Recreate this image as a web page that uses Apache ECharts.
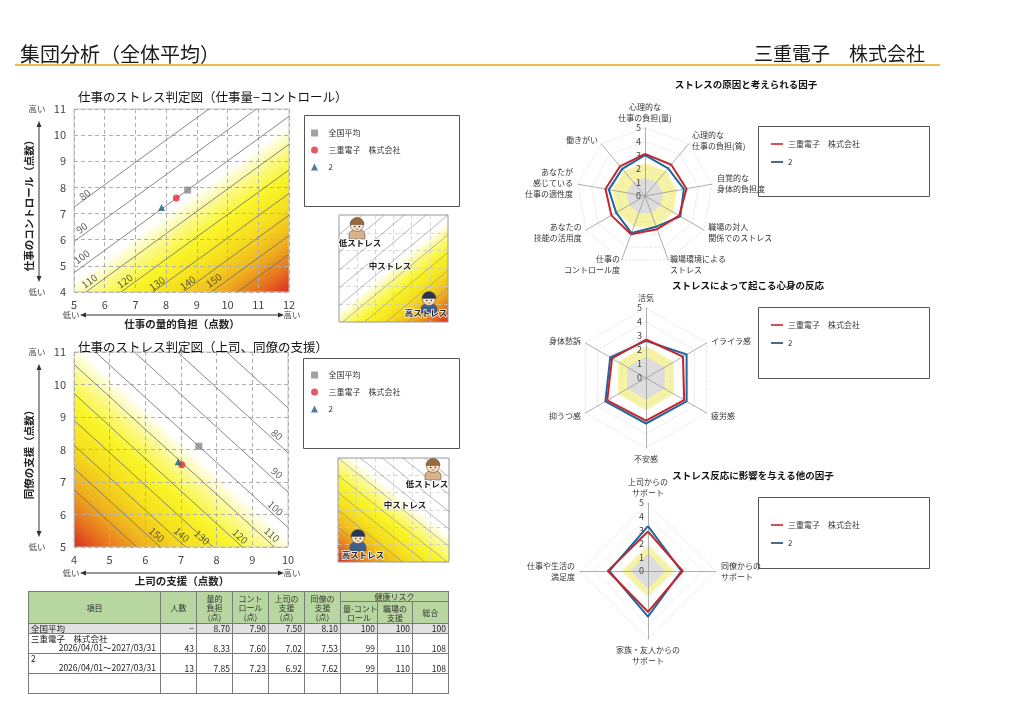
<!DOCTYPE html>
<html>
<head>
<meta charset="utf-8">
<script src="https://cdn.jsdelivr.net/npm/echarts@6/dist/echarts.min.js"></script>
<style>
html, body { margin:0; padding:0; background:#fff; }
#page { position:relative; width:1024px; height:724px; overflow:hidden; font-family:"Noto Sans CJK JP", sans-serif; }
#chart { position:absolute; left:0; top:0; width:1024px; height:724px; }
#tbl { position:absolute; left:28px; top:591px; width:420px; border-collapse:collapse; table-layout:fixed;
       font-family:"Noto Sans CJK JP", sans-serif; font-size:8px; color:#222; border:1.5px solid #333; z-index:2; }
#tbl td, #tbl th { border:1px solid #7a7a7a; padding:0 2px; overflow:hidden; white-space:nowrap; line-height:9px; }
#tbl th { background:#b8d7a0; font-weight:normal; text-align:center; vertical-align:middle; color:#333; }
#tbl td { text-align:right; vertical-align:bottom; font-size:8.5px; }
#tbl td.name { text-align:left; vertical-align:top; }
#tbl tr.avg td { background:#e2e2e2; vertical-align:middle; }
</style>
</head>
<body>
<div id="page">
  <div id="chart"></div>
  <table id="tbl"></table>
</div>
<script>
// ---- table / scatter values ----
var groups = ['全国平均', '三重電子　株式会社', '2'];
var periods = ['', '2026/04/01～2027/03/31', '2026/04/01～2027/03/31'];
var headcount = ['−', '43', '13'];
var jobDemand = [8.70, 8.33, 7.85];
var jobControl = [7.90, 7.60, 7.23];
var bossSupport = [7.50, 7.02, 6.92];
var peerSupport = [8.10, 7.53, 7.62];
var riskDemandControl = [100, 99, 99];
var riskSupport = [100, 110, 110];
var riskTotal = [100, 108, 108];

// ---- contour lines ----
var levels1 = [80, 90, 100, 110, 120, 130, 140, 150, 160];
var lines1 = [
  [[5, 7.25], [9.39, 11]], [[5, 5.93], [10.94, 11]], [[5, 4.74], [12, 10.72]],
  [[5.39, 4], [12, 9.65]], [[6.53, 4], [12, 8.67]], [[7.58, 4], [12, 7.77]],
  [[8.56, 4], [12, 6.94]], [[9.47, 4], [12, 6.16]], [[10.32, 4], [12, 5.44]]
];
var labelPos1 = [[5.35, 7.72], [5.25, 6.45], [5.25, 5.35], [5.5, 4.42], [6.65, 4.42], [7.7, 4.32], [8.7, 4.35], [9.55, 4.45]];

var levels2 = [70, 80, 90, 100, 110, 120, 130, 140, 150, 160];
var lines2 = [
  [[8.28, 11], [10, 9.28]], [[6.9, 11], [10, 7.9]], [[5.69, 11], [10, 6.69]], [[4.6, 11], [10, 5.6]],
  [[4, 10.62], [9.62, 5]], [[4, 9.72], [8.72, 5]], [[4, 8.9], [7.9, 5]], [[4, 8.13], [7.13, 5]],
  [[4, 7.42], [6.42, 5]], [[4, 6.76], [5.76, 5]]
];
var labelLevels2 = [80, 90, 100, 110, 120, 130, 140, 150];
var labelPos2 = [[9.69, 8.46], [9.69, 7.28], [9.65, 6.2], [9.55, 5.38], [8.66, 5.33], [7.59, 5.3], [7.02, 5.38], [6.32, 5.38]];

// ---- small explanation diagrams ----
var miniLinesUp = [
  [[0, 4.9], [1.3, 6]], [[0, 3.9], [2.5, 6]], [[0, 2.9], [3.6, 6]], [[0, 1.9], [4.8, 6]], [[0, 0.9], [6, 6]],
  [[0.2, 0], [6, 4.9]], [[1.4, 0], [6, 3.9]], [[2.6, 0], [6, 2.9]], [[3.8, 0], [6, 1.9]], [[4.9, 0], [6, 0.9]]
];
var miniLinesDown = [
  [[0, 1], [1.2, 0]], [[0, 2], [2.4, 0]], [[0, 3], [3.5, 0]], [[0, 4], [4.7, 0]], [[0, 5], [5.9, 0]],
  [[0, 6], [6, 0.9]], [[1.2, 6], [6, 1.9]], [[2.4, 6], [6, 2.9]], [[3.5, 6], [6, 3.9]], [[4.7, 6], [6, 4.9]]
];

// ---- radar values ----
var causeAxes = ['心理的な\n仕事の負担(量)', '心理的な\n仕事の負担(質)', '自覚的な\n身体的負担度', '職場の対人\n関係でのストレス',
  '職場環境による\nストレス', '仕事の\nコントロール度', 'あなたの\n技能の活用度', 'あなたが\n感じている\n仕事の適性度', '働きがい'];
var causeCompany = [3.1, 3.0, 3.1, 2.9, 2.6, 3.0, 2.85, 2.95, 2.85];
var causeGroup2 = [3.0, 2.65, 2.9, 3.0, 2.4, 2.9, 2.45, 2.7, 2.6];
var causeCaution = [2.4, 2.4, 2.4, 2.4, 2.4, 2.4, 2.4, 2.4, 2.4];
var causeHigh = [1.35, 1.35, 1.35, 1.35, 1.35, 1.35, 1.35, 1.35, 1.35];

var reactAxes = ['活気', 'イライラ感', '疲労感', '不安感', '抑うつ感', '身体愁訴'];
var reactCompany = [2.75, 3.05, 3.15, 3.05, 3.2, 2.8];
var reactGroup2 = [2.65, 3.35, 3.35, 3.25, 3.35, 2.95];
var reactCaution = [2.3, 2.3, 2.3, 2.3, 2.3, 2.3];
var reactHigh = [1.55, 1.55, 1.55, 1.55, 1.55, 1.55];

var supportAxes = ['上司からの\nサポート', '同僚からの\nサポート', '家族・友人からの\nサポート', '仕事や生活の\n満足度'];
var supportCompany = [2.9, 2.55, 3.0, 2.95];
var supportGroup2 = [3.3, 2.45, 3.35, 2.85];
var supportCaution = [1.9, 1.9, 1.9, 1.9];
var supportHigh = [1.3, 1.3, 1.3, 1.3];

var tableHeads = ['項目', '人数', '量的<br>負担<br>(点)', 'コント<br>ロール<br>(点)', '上司の<br>支援<br>(点)', '同僚の<br>支援<br>(点)'];
var riskHeads = ['量-コント<br>ロール', '職場の<br>支援', '総合'];

// ---------------------------------------------------------------
var FONT = '"Noto Sans CJK JP", "Noto Sans", sans-serif';
var C_AVG = '#8a8a8a', C_RED = '#e0303a', C_BLUE = '#1f5c8a';
var R_RED = '#c4262e', R_BLUE = '#2067a0';

// table
(function () {
  var cols = [132, 36, 36, 36, 36, 36, 37, 35, 36];
  var h = '<colgroup>' + cols.map(function (w) { return '<col style="width:' + w + 'px">'; }).join('') + '</colgroup>';
  h += '<tr style="height:10px">' + tableHeads.map(function (t) { return '<th rowspan="2">' + t + '</th>'; }).join('') +
       '<th colspan="3">健康リスク</th></tr>';
  h += '<tr style="height:22px">' + riskHeads.map(function (t) { return '<th>' + t + '</th>'; }).join('') + '</tr>';
  for (var i = 0; i < groups.length; i++) {
    var name = '<div>' + groups[i] + '</div>' + (periods[i] ? '<div style="text-align:right;padding-right:2px">' + periods[i] + '</div>' : '');
    h += '<tr' + (i === 0 ? ' class="avg" style="height:9px"' : ' style="height:20px"') + '>' +
      '<td class="name">' + name + '</td><td>' + headcount[i] + '</td>' +
      '<td>' + jobDemand[i].toFixed(2) + '</td><td>' + jobControl[i].toFixed(2) + '</td>' +
      '<td>' + bossSupport[i].toFixed(2) + '</td><td>' + peerSupport[i].toFixed(2) + '</td>' +
      '<td>' + riskDemandControl[i] + '</td><td>' + riskSupport[i] + '</td><td>' + riskTotal[i] + '</td></tr>';
  }
  h += '<tr style="height:20px">' + cols.map(function () { return '<td></td>'; }).join('') + '</tr>';
  document.getElementById('tbl').innerHTML = h;
})();

var chart = echarts.init(document.getElementById('chart'));

var riskStops = [
  { offset: 0, color: '#ffffff' }, { offset: 0.05, color: '#ffffff' }, { offset: 0.19, color: '#fbf98a' },
  { offset: 0.33, color: '#f9f52a' }, { offset: 0.52, color: '#f5de1e' }, { offset: 0.7, color: '#efb11e' },
  { offset: 0.86, color: '#e6701f' }, { offset: 1, color: '#dc2c22' }
];

function bgSeries(idx, lineA, lineB, corner) {
  return {
    type: 'custom', xAxisIndex: idx, yAxisIndex: idx, silent: true, z: -5,
    data: [[lineA[0], lineA[1]]],
    renderItem: function (params, api) {
      var cs = params.coordSys;
      var a = api.coord(lineA), b = api.coord(lineB), c = api.coord(corner);
      var dx = b[0] - a[0], dy = b[1] - a[1];
      var t = ((c[0] - a[0]) * dx + (c[1] - a[1]) * dy) / (dx * dx + dy * dy);
      var f = [a[0] + t * dx, a[1] + t * dy];
      return {
        type: 'rect', shape: { x: cs.x, y: cs.y, width: cs.width, height: cs.height },
        style: { fill: new echarts.graphic.LinearGradient(f[0], f[1], c[0], c[1], riskStops, true) }
      };
    }
  };
}

function xAx(gi, min, max, mini) {
  return {
    type: 'value', gridIndex: gi, min: min, max: max, interval: 1, z: 1,
    axisLine: { show: false }, axisTick: { show: false },
    axisLabel: { show: !mini, fontSize: 11, color: '#444', margin: 7, fontFamily: FONT },
    splitLine: { lineStyle: { color: mini ? '#c8c8c8' : '#b0b0b0', type: [4, 3], width: mini ? 0.7 : 1 } }
  };
}
function yAx(gi, min, max, mini) {
  var a = xAx(gi, min, max, mini);
  a.axisLabel.margin = 8;
  return a;
}

var series = [];
series.push(bgSeries(0, lines1[2][0], lines1[2][1], [12, 4]));
series.push(bgSeries(1, lines2[3][0], lines2[3][1], [4, 5]));
series.push(bgSeries(2, miniLinesUp[4][0], miniLinesUp[4][1], [6, 0]));
series.push(bgSeries(3, miniLinesDown[6][0], miniLinesDown[6][1], [0, 0]));

function contour(idx, lines, color, width) {
  lines.forEach(function (l) {
    series.push({ type: 'line', xAxisIndex: idx, yAxisIndex: idx, data: l, symbol: 'none', silent: true, z: 3,
      lineStyle: { color: color, width: width } });
  });
}
contour(0, lines1, '#6a6a6a', 0.8);
contour(1, lines2, '#6a6a6a', 0.8);
contour(2, miniLinesUp, '#8a8a8a', 0.6);
contour(3, miniLinesDown, '#8a8a8a', 0.6);

function levelLabels(idx, pos, lv, rot) {
  series.push({
    type: 'scatter', xAxisIndex: idx, yAxisIndex: idx, symbolSize: 1, silent: true, z: 4,
    itemStyle: { color: 'transparent' },
    data: pos.map(function (p, i) { return [p[0], p[1], lv[i]]; }),
    label: { show: true, position: 'inside', rotate: rot, fontSize: 10, color: '#333', fontFamily: FONT,
      formatter: function (p) { return p.value[2]; } }
  });
}
levelLabels(0, labelPos1, levels1, 36);
levelLabels(1, labelPos2, labelLevels2, -42);

var marks = [
  { symbol: 'rect', color: C_AVG },
  { symbol: 'circle', color: C_RED },
  { symbol: 'triangle', color: C_BLUE }
];
groups.forEach(function (g, i) {
  series.push({ type: 'scatter', name: g, xAxisIndex: 0, yAxisIndex: 0, symbol: marks[i].symbol, symbolSize: 7, z: 10,
    itemStyle: { color: marks[i].color }, data: [[jobDemand[i], jobControl[i]]] });
  series.push({ type: 'scatter', name: g, xAxisIndex: 1, yAxisIndex: 1, symbol: marks[i].symbol, symbolSize: 7, z: 10,
    itemStyle: { color: marks[i].color }, data: [[bossSupport[i], peerSupport[i]]] });
});

// radar
function cw(arr) { return [arr[0]].concat(arr.slice(1).reverse()); }
function radarCfg(axes, center, radius) {
  return {
    z: 4,
    center: center, radius: radius, startAngle: 90, splitNumber: 5, shape: 'polygon',
    indicator: cw(axes).map(function (n, i) {
      var ind = { name: n, min: 0, max: 5 };
      if (i === 0) ind.axisLabel = { show: true, fontSize: 9, color: '#444', showMinLabel: true, margin: 4 };
      return ind;
    }),
    axisName: { color: '#333', fontSize: 8, lineHeight: 11, fontFamily: FONT },
    nameGap: 5,
    axisLine: { lineStyle: { color: '#9a9a9a', width: 0.8 } },
    splitLine: { lineStyle: { color: '#dcdcdc', type: 'dashed', width: 0.7 } },
    splitArea: { show: false },
    axisTick: { show: false },
    axisLabel: { show: false }
  };
}
var radars = [
  radarCfg(causeAxes, [645, 196], 68),
  radarCfg(reactAxes, [646, 378], 70),
  radarCfg(supportAxes, [648, 571], 68)
];
var radarData = [
  [causeCaution, causeHigh, causeGroup2, causeCompany],
  [reactCaution, reactHigh, reactGroup2, reactCompany],
  [supportCaution, supportHigh, supportGroup2, supportCompany]
];
radarData.forEach(function (d, ri) {
  series.push({ type: 'radar', radarIndex: ri, silent: true, symbol: 'none', z: 1,
    data: [
      { value: cw(d[0]), areaStyle: { color: '#f6f3a2', opacity: 1 }, lineStyle: { opacity: 0 } },
      { value: cw(d[1]), areaStyle: { color: '#dddddd', opacity: 1 }, lineStyle: { opacity: 0 } }
    ] });
  series.push({ type: 'radar', radarIndex: ri, symbol: 'none', z: 6,
    data: [
      { name: groups[2], value: cw(d[2]), itemStyle: { color: R_BLUE }, lineStyle: { color: R_BLUE, width: 2 } },
      { name: groups[1], value: cw(d[3]), itemStyle: { color: R_RED }, lineStyle: { color: R_RED, width: 2 } }
    ] });
});

// legends
var SQ = 'path://M0,0H1V1H0Z', TRI = 'path://M0.5,0L1,1H0Z', LN = 'path://M0,0H12V2H0Z';
function scatterLegend(top) {
  return {
    left: 306, top: top, orient: 'vertical', itemGap: 9, itemWidth: 18, itemHeight: 7, selectedMode: false,
    textStyle: { fontSize: 8, color: '#333', fontFamily: FONT },
    data: [
      { name: groups[0], icon: SQ, itemStyle: { color: C_AVG } },
      { name: groups[1], icon: 'circle', itemStyle: { color: C_RED } },
      { name: groups[2], icon: TRI, itemStyle: { color: C_BLUE } }
    ]
  };
}
function radarLegend(top) {
  return {
    left: 766, top: top, orient: 'vertical', itemGap: 10, itemWidth: 12, itemHeight: 2, selectedMode: false,
    textStyle: { fontSize: 8, color: '#333', fontFamily: FONT },
    data: [
      { name: groups[1], icon: LN, itemStyle: { color: R_RED } },
      { name: groups[2], icon: LN, itemStyle: { color: '#1d4766' } }
    ]
  };
}

// graphic helpers
function txt(x, y, s, size, o) {
  o = o || {};
  return { type: 'text', x: x, y: y, rotation: o.rot || 0, z: 50,
    style: { text: s, fontSize: size, fontFamily: FONT, fontWeight: o.bold ? 'bold' : 'normal', fill: o.color || '#222',
      align: o.align || 'center', verticalAlign: 'middle', stroke: o.stroke || null, lineWidth: o.lw || 0 } };
}
function box(x, y, w, h) {
  return { type: 'rect', z: 50, shape: { x: x + 0.5, y: y + 0.5, width: w, height: h }, style: { fill: 'none', stroke: '#555', lineWidth: 1 } };
}
function arrowH(x1, x2, y) {
  return [
    { type: 'line', z: 50, shape: { x1: x1 + 4, y1: y, x2: x2 - 4, y2: y }, style: { stroke: '#333', lineWidth: 1 } },
    { type: 'polygon', z: 50, shape: { points: [[x1, y], [x1 + 6, y - 2.5], [x1 + 6, y + 2.5]] }, style: { fill: '#333' } },
    { type: 'polygon', z: 50, shape: { points: [[x2, y], [x2 - 6, y - 2.5], [x2 - 6, y + 2.5]] }, style: { fill: '#333' } }
  ];
}
function arrowV(x, y1, y2) {
  return [
    { type: 'line', z: 50, shape: { x1: x, y1: y1 + 4, x2: x, y2: y2 - 4 }, style: { stroke: '#333', lineWidth: 1 } },
    { type: 'polygon', z: 50, shape: { points: [[x, y1], [x - 2.5, y1 + 6], [x + 2.5, y1 + 6]] }, style: { fill: '#333' } },
    { type: 'polygon', z: 50, shape: { points: [[x, y2], [x - 2.5, y2 - 6], [x + 2.5, y2 - 6]] }, style: { fill: '#333' } }
  ];
}
function face(cx, cy, hair, cloth) {
  return [
    { type: 'rect', z: 50, shape: { x: cx - 8, y: cy + 5, width: 16, height: 9, r: [5, 5, 0, 0] }, style: { fill: cloth, stroke: '#555', lineWidth: 0.6 } },
    { type: 'circle', z: 51, shape: { cx: cx, cy: cy, r: 6.5 }, style: { fill: '#fbe2c4', stroke: '#555', lineWidth: 0.6 } },
    { type: 'sector', z: 52, shape: { cx: cx, cy: cy - 0.5, r: 7, r0: 0, startAngle: Math.PI, endAngle: 2 * Math.PI }, style: { fill: hair, stroke: '#555', lineWidth: 0.6 } },
    { type: 'circle', z: 53, shape: { cx: cx - 2.3, cy: cy + 1.5, r: 0.8 }, style: { fill: '#333' } },
    { type: 'circle', z: 53, shape: { cx: cx + 2.3, cy: cy + 1.5, r: 0.8 }, style: { fill: '#333' } },
    { type: 'line', z: 53, shape: { x1: cx - 1.5, y1: cy + 4, x2: cx + 1.5, y2: cy + 4 }, style: { stroke: '#a04030', lineWidth: 0.7 } }
  ];
}

var g = [];
// page header
g.push(txt(20, 54, '集団分析（全体平均）', 20, { align: 'left', color: '#1a1a1a' }));
g.push(txt(925, 54, '三重電子　株式会社', 19, { align: 'right', color: '#1a1a1a' }));
g.push({ type: 'line', z: 50, shape: { x1: 15, y1: 65, x2: 940, y2: 65 }, style: { stroke: '#e7bd4c', lineWidth: 2.2 } });

// chart titles
g.push(txt(78, 97, '仕事のストレス判定図（仕事量−コントロール）', 12.5, { align: 'left', color: '#111' }));
g.push(txt(78, 347, '仕事のストレス判定図（上司、同僚の支援）', 12.5, { align: 'left', color: '#111' }));

// axis decorations chart 1
g.push(txt(37, 109, '高い', 8.5, { color: '#444' }), txt(37, 292, '低い', 8.5, { color: '#444' }));
g = g.concat(arrowV(39, 121, 282));
g.push(txt(29, 203, '仕事のコントロール（点数）', 10.5, { rot: Math.PI / 2, bold: true, color: '#222' }));
g.push(txt(71, 315, '低い', 8.5, { color: '#444' }), txt(292, 315, '高い', 8.5, { color: '#444' }));
g = g.concat(arrowH(80, 284, 315));
g.push(txt(182, 324, '仕事の量的負担（点数）', 10.5, { bold: true, color: '#222' }));

// axis decorations chart 2
g.push(txt(37, 352, '高い', 8.5, { color: '#444' }), txt(37, 547, '低い', 8.5, { color: '#444' }));
g = g.concat(arrowV(39, 364, 537));
g.push(txt(29, 452, '同僚の支援（点数）', 10.5, { rot: Math.PI / 2, bold: true, color: '#222' }));
g.push(txt(71, 573, '低い', 8.5, { color: '#444' }), txt(292, 573, '高い', 8.5, { color: '#444' }));
g = g.concat(arrowH(80, 284, 573));
g.push(txt(182, 581, '上司の支援（点数）', 10.5, { bold: true, color: '#222' }));

// legend boxes
g.push(box(304, 115, 155, 91), box(303, 358, 156, 90));
g.push(box(758, 126, 171, 70), box(758, 307, 171, 71), box(758, 497, 171, 71));

// radar titles
g.push(txt(746, 84, 'ストレスの原因と考えられる因子', 9.5, { bold: true, color: '#111' }));
g.push(txt(748, 285, 'ストレスによって起こる心身の反応', 9.5, { bold: true, color: '#111' }));
g.push(txt(753, 475, 'ストレス反応に影響を与える他の因子', 9.5, { bold: true, color: '#111' }));

// mini diagrams
g = g.concat(face(357, 225, '#9a6a3a', '#d9b48a'), face(429, 299, '#2a3552', '#3f5f8f'));
g.push(txt(360, 243, '低ストレス', 8.5, { bold: true, color: '#222', stroke: '#fff', lw: 2 }));
g.push(txt(390, 266, '中ストレス', 8.5, { bold: true, color: '#222', stroke: '#fff', lw: 2 }));
g.push(txt(426, 313, '高ストレス', 8.5, { bold: true, color: '#222', stroke: '#fff', lw: 1.5 }));
g = g.concat(face(433, 466, '#9a6a3a', '#d9b48a'), face(358, 537, '#2a3552', '#3f5f8f'));
g.push(txt(427, 484, '低ストレス', 8.5, { bold: true, color: '#222', stroke: '#fff', lw: 2 }));
g.push(txt(405, 505, '中ストレス', 8.5, { bold: true, color: '#222', stroke: '#fff', lw: 2 }));
g.push(txt(363, 555, '高ストレス', 8.5, { bold: true, color: '#222', stroke: '#fff', lw: 1.5 }));

var option = {
  animation: false,
  textStyle: { fontFamily: FONT },
  grid: [
    { left: 74, top: 109, width: 215, height: 183, show: true, borderColor: '#c4c4c4', borderWidth: 1, backgroundColor: 'transparent' },
    { left: 74, top: 352, width: 214, height: 195, show: true, borderColor: '#c4c4c4', borderWidth: 1, backgroundColor: 'transparent' },
    { left: 339, top: 215, width: 109, height: 107, show: true, borderColor: '#999', borderWidth: 1, backgroundColor: 'transparent' },
    { left: 338, top: 458, width: 111, height: 104, show: true, borderColor: '#999', borderWidth: 1, backgroundColor: 'transparent' }
  ],
  xAxis: [xAx(0, 5, 12), xAx(1, 4, 10), xAx(2, 0, 6, true), xAx(3, 0, 6, true)],
  yAxis: [yAx(0, 4, 11), yAx(1, 5, 11), yAx(2, 0, 6, true), yAx(3, 0, 6, true)],
  radar: radars,
  legend: [scatterLegend(124), scatterLegend(366), radarLegend(135), radarLegend(316), radarLegend(516)],
  series: series,
  graphic: { elements: g }
};
chart.setOption(option);
</script>
</body>
</html>
